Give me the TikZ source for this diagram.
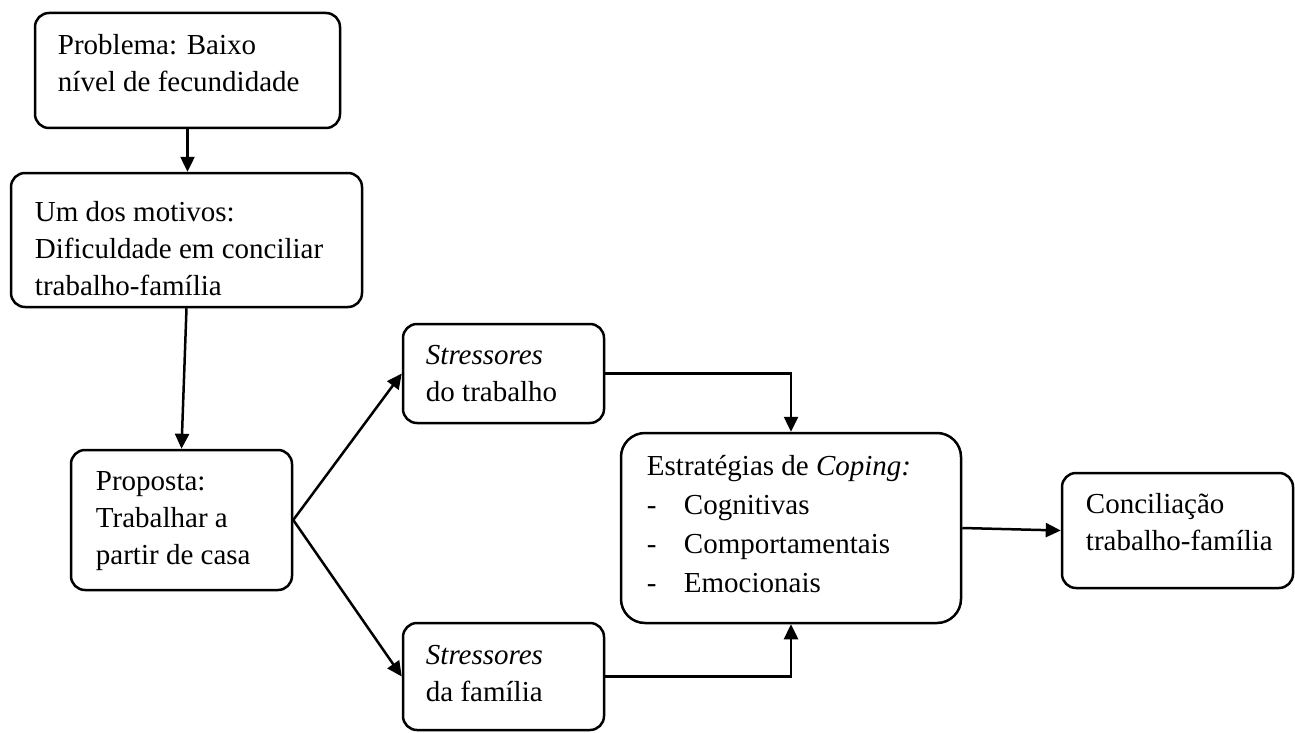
\documentclass[tikz,border=0pt]{standalone}
\usepackage{fontspec}
\setmainfont{Liberation Serif}
\usetikzlibrary{arrows.meta,positioning,calc}
\tikzset{
  box/.style={draw=black, line width=2.5pt, rounded corners=14pt, inner sep=0pt},
  bigbox/.style={box, rounded corners=24pt},
  txt/.style={anchor=north west, inner sep=0pt, align=left, font=\fontsize{29}{37}\selectfont},
  arr/.style={line width=2.5pt, -{Triangle[length=15pt,width=14pt]}},
}
\begin{document}
\begin{tikzpicture}[x=1pt,y=-1pt]
\useasboundingbox (0,0) rectangle (1295,733);
% boxes
\node[box, minimum width=305pt, minimum height=115pt] (p1) at (187.5,70.5) {};
\node[box, minimum width=351pt, minimum height=134pt] (p2) at (186.5,240) {};
\node[box, minimum width=221pt, minimum height=140pt] (p3) at (181.5,520) {};
\node[box, minimum width=201pt, minimum height=99pt] (s1) at (503.5,373.5) {};
\node[box, minimum width=201pt, minimum height=107pt] (s2) at (503.5,676.5) {};
\node[bigbox, minimum width=340pt, minimum height=190pt] (e) at (791,528) {};
\node[box, minimum width=231pt, minimum height=115pt] (c) at (1177.5,530.5) {};
% texts
\node[txt] (t1) at ($(p1.north west)+(24,22)$) {Problema: Baixo\\nível de fecundidade};
\node[txt] (t2) at ($(p2.north west)+(25,29)$) {Um dos motivos:\\Dificuldade em conciliar\\trabalho-família};
\node[txt] (t3) at ($(p3.north west)+(26,23)$) {Proposta:\\Trabalhar a\\partir de casa};
\node[txt] (t4) at ($(s1.north west)+(24,22)$) {\textit{Stressores}\\do trabalho};
\node[txt] (t5) at ($(s2.north west)+(24,23)$) {\textit{Stressores}\\da família};
\node[txt, font=\fontsize{29}{39}\selectfont] (t6) at ($(e.north west)+(27,23)$) {Estratégias de \textit{Coping:}\\\makebox[37pt][l]{-}Cognitivas\\\makebox[37pt][l]{-}Comportamentais\\\makebox[37pt][l]{-}Emocionais};
\node[txt] (t7) at ($(c.north west)+(25,21)$) {Conciliação\\trabalho-família};
% connectors
\draw[arr] (p1.south) -- (p1.south |- p2.north);
\draw[arr] (p2.south) -- (p3.north);
\draw[arr] (p3.east) -- (s1.west);
\draw[arr] (p3.east) -- (s2.west);
\draw[arr] (s1.east) -| (e.north);
\draw[arr] (s2.east) -| (e.south);
\draw[arr] (e.east) -- (c.west);
\end{tikzpicture}
\end{document}
